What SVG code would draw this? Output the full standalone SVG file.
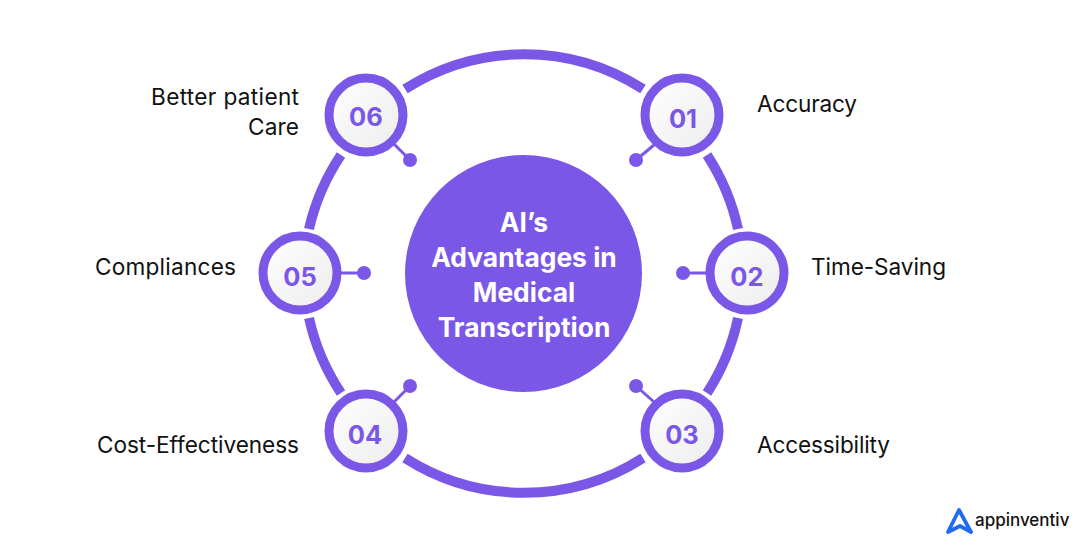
<svg xmlns="http://www.w3.org/2000/svg" width="1080" height="548" viewBox="0 0 1080 548">
<defs>
<linearGradient id="g" x1="0" y1="0" x2="1" y2="1"><stop offset="0" stop-color="#ffffff"/><stop offset="1" stop-color="#ececec"/></linearGradient>
</defs>
<style>
.arc{fill:none;stroke:#7b57e8;stroke-width:10}
.lead{fill:none;stroke:#7b57e8;stroke-width:3}
.dot{fill:#7b57e8}
.ring{fill:url(#g);stroke:#7b57e8;stroke-width:9}
.num{font-family:"Inter","Liberation Sans",sans-serif;font-weight:700;font-size:25.5px;fill:#7b57e8;text-anchor:middle}
.lab{font-family:"Inter","Liberation Sans",sans-serif;font-size:22.6px;fill:#111}
.hub{font-family:"Inter","Liberation Sans",sans-serif;font-weight:700;font-size:26.4px;fill:#fff;text-anchor:middle}
</style>
<rect width="1080" height="548" fill="#fff"/>
<g id="connectors">
<path class="arc" d="M405 89A221 221 0 0 1 643 89"/>
<path class="arc" d="M707 155A221 221 0 0 1 738 229"/>
<path class="arc" d="M738 318A221 221 0 0 1 707 393"/>
<path class="arc" d="M643 458A221 221 0 0 1 405 458"/>
<path class="arc" d="M341 393A221 221 0 0 1 309 318"/>
<path class="arc" d="M309 229A221 221 0 0 1 341 155"/>
<path class="lead" d="M654 145L636 160"/>
<path class="lead" d="M706 273H683"/>
<path class="lead" d="M654 402L636 386"/>
<path class="lead" d="M394 402L410 386"/>
<path class="lead" d="M341 273H364"/>
<path class="lead" d="M394 144L410 160"/>
<circle class="dot" cx="636" cy="160" r="7"/>
<circle class="dot" cx="683" cy="273" r="7"/>
<circle class="dot" cx="636" cy="386" r="7"/>
<circle class="dot" cx="410" cy="386" r="7"/>
<circle class="dot" cx="364" cy="273" r="7"/>
<circle class="dot" cx="410" cy="160" r="7"/>
</g>
<g id="hub">
<circle cx="523.5" cy="273.5" r="118.5" fill="#7b57e8"/>
<text class="hub" x="524" y="232">AI’s</text>
<text class="hub" x="524" y="267">Advantages in</text>
<text class="hub" x="524" y="302">Medical</text>
<text class="hub" x="524" y="337">Transcription</text>
</g>
<g id="node-01"><circle class="ring" cx="682" cy="115" r="37"/><text class="num" x="683" y="128">01</text><text class="lab" x="757" y="112" textLength="100">Accuracy</text></g>
<g id="node-02"><circle class="ring" cx="747" cy="273" r="37"/><text class="num" x="747" y="286">02</text><text class="lab" x="811" y="275" textLength="135">Time-Saving</text></g>
<g id="node-03"><circle class="ring" cx="682" cy="431" r="37"/><text class="num" x="682" y="444">03</text><text class="lab" x="757" y="453" textLength="133">Accessibility</text></g>
<g id="node-04"><circle class="ring" cx="366" cy="431" r="37"/><text class="num" x="365" y="444">04</text><text class="lab" x="97" y="453" textLength="202">Cost-Effectiveness</text></g>
<g id="node-05"><circle class="ring" cx="300" cy="273" r="37"/><text class="num" x="300" y="286">05</text><text class="lab" x="95" y="275" textLength="141">Compliances</text></g>
<g id="node-06"><circle class="ring" cx="366" cy="115" r="37"/><text class="num" x="366" y="126">06</text><text class="lab" x="151" y="105" textLength="148">Better patient</text><text class="lab" x="248" y="135" textLength="51">Care</text></g>
<g id="logo">
<path d="M948 532L959 510L971 532L960 526Z" fill="none" stroke="#1f6bf2" stroke-width="3.8" stroke-linejoin="round" stroke-linecap="round"/>
<text x="975" y="526" font-family="Inter,'Liberation Sans',sans-serif" font-size="17" font-weight="500" fill="#111">appinventiv</text>
</g>
</svg>
